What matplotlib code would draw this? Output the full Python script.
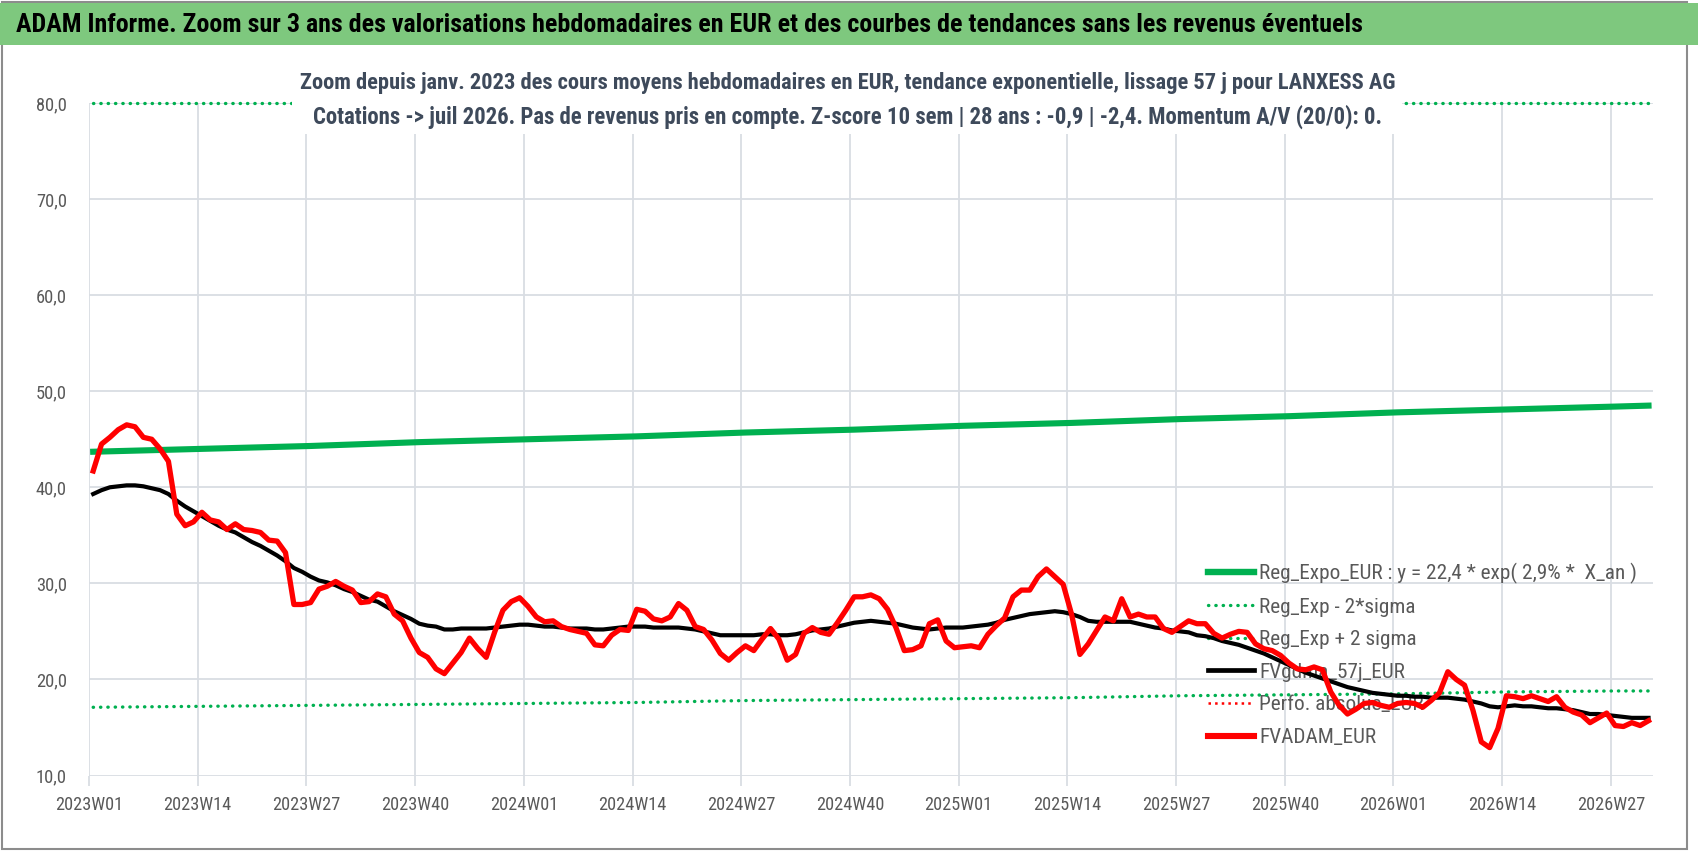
import matplotlib
matplotlib.use("Agg")
import matplotlib.pyplot as plt
from matplotlib import font_manager
from matplotlib.font_manager import FontProperties
from matplotlib.textpath import TextPath
from matplotlib.lines import Line2D
from matplotlib.patches import Rectangle
from matplotlib.ticker import FixedLocator, FuncFormatter

# weekly categories 2023W01 .. 2026W31
week_labels = [f"{y}W{w:02d}" for y in (2023, 2024, 2025) for w in range(1, 53)]
week_labels += [f"2026W{w:02d}" for w in range(1, 32)]

tick_labels = ["2023W01", "2023W14", "2023W27", "2023W40", "2024W01", "2024W14", "2024W27",
               "2024W40", "2025W01", "2025W14", "2025W27", "2025W40", "2026W01", "2026W14",
               "2026W27"]

# FVADAM_EUR (red), weekly mean price
fvadam = [41.7, 44.5, 45.2, 46.0, 46.5, 46.3, 45.2, 45.0, 44.0, 42.7,
          37.2, 36.0, 36.4, 37.4, 36.6, 36.4, 35.6, 36.2, 35.6, 35.5,
          35.3, 34.5, 34.4, 33.2, 27.8, 27.8, 28.0, 29.4, 29.7, 30.2,
          29.7, 29.3, 28.0, 28.1, 28.9, 28.6, 26.8, 26.1, 24.3, 22.8,
          22.3, 21.1, 20.6, 21.7, 22.8, 24.3, 23.2, 22.3, 24.9, 27.2,
          28.1, 28.5, 27.6, 26.5, 26.0, 26.1, 25.5, 25.2, 25.0, 24.8,
          23.6, 23.5, 24.6, 25.2, 25.1, 27.3, 27.1, 26.3, 26.1, 26.5,
          27.9, 27.2, 25.5, 25.2, 24.1, 22.7, 22.0, 22.8, 23.5, 23.0,
          24.2, 25.3, 24.2, 22.0, 22.6, 24.8, 25.4, 24.9, 24.7, 25.9,
          27.2, 28.6, 28.6, 28.8, 28.4, 27.3, 25.4, 23.0, 23.1, 23.5,
          25.8, 26.2, 24.0, 23.3, 23.4, 23.5, 23.3, 24.7, 25.6, 26.4,
          28.6, 29.3, 29.3, 30.7, 31.5, 30.7, 29.9, 26.8, 22.6, 23.7,
          25.1, 26.5, 26.1, 28.4, 26.5, 26.8, 26.5, 26.5, 25.3, 24.9,
          25.5, 26.1, 25.8, 25.8, 24.8, 24.3, 24.7, 25.0, 24.9, 23.7,
          23.2, 23.0, 22.5, 21.7, 21.1, 21.0, 21.3, 21.0, 18.7, 17.3,
          16.4, 16.9, 17.5, 17.6, 17.3, 17.1, 17.5, 17.6, 17.5, 17.1,
          17.8, 18.6, 20.8, 20.0, 19.4, 16.8, 13.5, 12.9, 14.9, 18.3,
          18.2, 18.0, 18.3, 18.0, 17.7, 18.2, 17.1, 16.6, 16.3, 15.5,
          16.0, 16.5, 15.2, 15.1, 15.5, 15.2, 15.7]

# FVgdma_57j_EUR (black), smoothed
fvgdma = [39.3, 39.7, 40.0, 40.1, 40.2, 40.2, 40.1, 39.9, 39.7, 39.3,
          38.6, 38.0, 37.5, 37.0, 36.5, 36.0, 35.6, 35.3, 34.8, 34.3,
          33.9, 33.4, 32.9, 32.3, 31.6, 31.2, 30.7, 30.3, 30.1, 29.8,
          29.4, 29.1, 28.7, 28.3, 28.1, 27.6, 27.1, 26.7, 26.3, 25.8,
          25.6, 25.5, 25.2, 25.2, 25.3, 25.3, 25.3, 25.3, 25.4, 25.5,
          25.6, 25.7, 25.7, 25.6, 25.5, 25.5, 25.4, 25.3, 25.3, 25.3,
          25.2, 25.2, 25.3, 25.4, 25.5, 25.5, 25.5, 25.4, 25.4, 25.4,
          25.4, 25.3, 25.2, 25.0, 24.8, 24.6, 24.6, 24.6, 24.6, 24.6,
          24.7, 24.7, 24.6, 24.6, 24.7, 24.9, 25.1, 25.2, 25.3, 25.5,
          25.7, 25.9, 26.0, 26.1, 26.0, 25.9, 25.8, 25.6, 25.4, 25.3,
          25.2, 25.3, 25.4, 25.4, 25.4, 25.5, 25.6, 25.7, 25.9, 26.2,
          26.4, 26.6, 26.8, 26.9, 27.0, 27.1, 27.0, 26.8, 26.5, 26.1,
          26.0, 26.0, 26.0, 26.0, 26.0, 25.8, 25.6, 25.4, 25.3, 25.1,
          25.0, 24.9, 24.6, 24.5, 24.3, 24.0, 23.8, 23.6, 23.3, 23.0,
          22.7, 22.3, 21.9, 21.5, 21.1, 20.7, 20.4, 20.1, 19.8, 19.5,
          19.2, 19.0, 18.8, 18.6, 18.5, 18.4, 18.3, 18.3, 18.2, 18.2,
          18.1, 18.1, 18.1, 18.0, 17.9, 17.7, 17.5, 17.2, 17.1, 17.2,
          17.3, 17.2, 17.2, 17.1, 17.0, 17.0, 16.9, 16.8, 16.6, 16.4,
          16.4, 16.3, 16.2, 16.1, 16.0, 16.0, 16.0]

# exponential regression and its bands, read at quarterly points
reg_weeks = ["2023W01", "2023W14", "2023W27", "2023W40", "2024W01", "2024W14", "2024W27",
             "2024W40", "2025W01", "2025W14", "2025W27", "2025W40", "2026W01", "2026W14",
             "2026W27", "2026W31"]
reg_expo = [43.7, 44.0, 44.3, 44.7, 45.0, 45.3, 45.7, 46.0, 46.4, 46.7, 47.1, 47.4, 47.8,
            48.1, 48.4, 48.5]
reg_minus = [17.1, 17.2, 17.3, 17.4, 17.5, 17.6, 17.8, 17.9, 18.0, 18.1, 18.3, 18.4, 18.5,
             18.7, 18.8, 18.8]
reg_plus = [80.0, 80.0, 80.0, 80.0, 80.0, 80.0, 80.0, 80.0, 80.0, 80.0, 80.0, 80.0, 80.0,
            80.0, 80.0, 80.0]

legend_labels = ["Reg_Expo_EUR : y = 22,4 * exp( 2,9% *  X_an )", "Reg_Exp - 2*sigma",
                 "Reg_Exp + 2 sigma", "FVgdma_57j_EUR", "Perfo. absolue_EUR", "FVADAM_EUR"]

title = ("ADAM Informe. Zoom sur 3 ans des valorisations hebdomadaires en EUR et des courbes "
         "de tendances sans les revenus éventuels")
subtitle1 = ("Zoom depuis janv. 2023 des cours moyens hebdomadaires en EUR, tendance "
             "exponentielle, lissage 57 j pour LANXESS AG")
subtitle2 = ("Cotations -> juil 2026. Pas de revenus pris en compte. Z-score 10 sem | 28 ans : "
             "-0,9 | -2,4. Momentum A/V (20/0): 0.")

GREEN = "#00B050"
RED = "#FF0000"
GRID = "#D9DDE3"
TXT = "#595959"
W, H = 1698, 856
DOTS = (0, (0.1, 2.1))

# narrowest sans family available (the original uses a Calibri-like face)
installed = {f.name for f in font_manager.fontManager.ttflist}
FONT = "DejaVu Sans"
for name in ["Liberation Sans Narrow", "Roboto Condensed", "Open Sans Condensed", "Lato",
             "Roboto"]:
    if name in installed:
        FONT = name
        break
plt.rcParams["font.family"] = [FONT, "DejaVu Sans"]


def size_for(text, width_px, weight="normal"):
    # font size (pt) so that the text is about width_px wide
    tp = TextPath((0, 0), text, size=10, prop=FontProperties(family=FONT, weight=weight))
    w = tp.get_extents().width * 100 / 72
    return 10 * width_px / w


def fx(px):
    return px / W


def fy(py):
    # py measured from the top
    return 1 - py / H


fig = plt.figure(figsize=(W / 100, H / 100), dpi=100)
fig.patch.set_facecolor("white")

ax = fig.add_axes([fx(89), fy(775.5), fx(1652.7) - fx(89), fy(103) - fy(775.5)])

x = [i + 0.5 for i in range(len(week_labels))]
xr = [week_labels.index(w) + 0.5 for w in reg_weeks]

ax.plot(xr, reg_expo, color=GREEN, lw=4.4, zorder=3)
ax.plot(xr, reg_minus, color=GREEN, lw=2.4, ls=DOTS, dash_capstyle="round", zorder=3)
ax.plot(xr, reg_plus, color=GREEN, lw=2.4, ls=DOTS, dash_capstyle="round", zorder=3,
        clip_on=False)
ax.plot(x, fvgdma, color="black", lw=3.0, zorder=4)
ax.plot(x, fvadam, color=RED, lw=3.8, zorder=5, solid_joinstyle="round")

ax.set_xlim(0, len(week_labels))
ax.set_ylim(10, 80)
ax.yaxis.set_major_locator(FixedLocator(range(10, 81, 10)))
ax.yaxis.set_major_formatter(FuncFormatter(lambda v, p: f"{v:.1f}".replace(".", ",")))
ax.set_xticks([week_labels.index(t) for t in tick_labels])
ax.set_xticklabels(tick_labels)

ax.grid(True, color=GRID, lw=1.3)
ax.set_axisbelow(True)
for s in ax.spines.values():
    s.set_visible(False)
ax.tick_params(axis="y", length=0, pad=16, labelcolor=TXT,
               labelsize=size_for("80,0", 29))
ax.tick_params(axis="x", length=7, width=1.3, color=GRID, pad=8, labelcolor=TXT,
               labelsize=size_for("2023W01", 64))

handles = [
    Line2D([], [], color=GREEN, lw=4.6),
    Line2D([], [], color=GREEN, lw=2.4, ls=DOTS, dash_capstyle="round"),
    Line2D([], [], color=GREEN, lw=2.4, ls=DOTS, dash_capstyle="round"),
    Line2D([], [], color="black", lw=3.4),
    Line2D([], [], color=RED, lw=1.8, ls=":"),
    Line2D([], [], color=RED, lw=4.4),
]
leg_size = size_for(legend_labels[0], 374)
leg_px = leg_size * 100 / 72
leg = ax.legend(handles, legend_labels, loc="upper left", frameon=False,
                bbox_to_anchor=(fx(1208), fy(563)), bbox_transform=fig.transFigure,
                prop={"size": leg_size}, labelcolor=TXT, handlelength=46 / leg_px,
                handletextpad=5 / leg_px, labelspacing=(38.4 - 1.17 * leg_px) / leg_px,
                borderpad=0, borderaxespad=0)
leg.set_zorder(2.5)

# outer frame and title band
fig.patches.append(Rectangle((fx(2), fy(849)), fx(1687) - fx(2), fy(2) - fy(849),
                             transform=fig.transFigure, fill=False, ec="#8C8C8C", lw=1.5,
                             zorder=0))
fig.patches.append(Rectangle((0, fy(45)), 1, fy(3) - fy(45), transform=fig.transFigure,
                             fc="#7EC87E", ec="none", zorder=1))
# white box behind the subtitle
fig.patches.append(Rectangle((fx(292), fy(134)), fx(1402) - fx(292), fy(62) - fy(134),
                             transform=fig.transFigure, fc="white", ec="none", zorder=5))

fig.text(fx(16), fy(25), title, ha="left", va="center", color="black", fontweight="bold",
         fontsize=size_for(title, 1346, "bold"), zorder=6)
fig.text(fx(848), fy(83), subtitle1, ha="center", va="center", color="#3E4A5B",
         fontweight="bold", fontsize=size_for(subtitle1, 1095, "bold"), zorder=6)
fig.text(fx(848), fy(117), subtitle2, ha="center", va="center", color="#3E4A5B",
         fontweight="bold", fontsize=size_for(subtitle2, 1070, "bold"), zorder=6)

fig.savefig("out.png", dpi=100, facecolor="white")
